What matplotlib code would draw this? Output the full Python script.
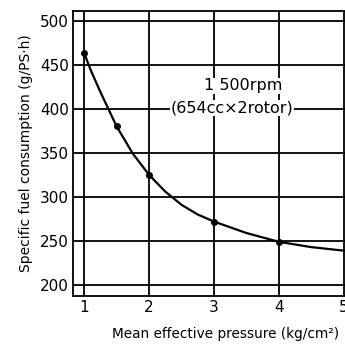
import matplotlib
matplotlib.use("Agg")
import matplotlib.pyplot as plt

plt.rcParams['font.family'] = ['DejaVu Sans']

# data
pressure = [1.0, 1.5, 2.0, 3.0, 4.0]
consumption = [463, 380, 325, 272, 249]
curve_x = [1.0, 1.1, 1.25, 1.5, 1.75, 2.0, 2.25, 2.5, 2.75, 3.0, 3.5, 4.0, 4.5, 5.0]
curve_y = [463, 444, 419, 380, 349, 325, 306, 291, 280, 272, 259, 249, 243, 239]
xticks = [1, 2, 3, 4, 5]
yticks = [200, 250, 300, 350, 400, 450, 500]

fig = plt.figure(figsize=(3.45, 3.52), dpi=100)
ax = fig.add_axes([0.212, 0.159, 0.79, 0.81])

for x in xticks:
    ax.axvline(x, color='k', lw=1.3, zorder=1)
for y in yticks:
    ax.axhline(y, color='k', lw=1.3, zorder=1)

ax.plot(curve_x, curve_y, color='k', lw=1.6, zorder=3)
ax.plot(pressure, consumption, 'o', color='k', ms=4, zorder=4)

ax.text(3.45, 426, '1 500rpm', ha='center', va='center', fontsize=11.5,
        bbox=dict(facecolor='white', edgecolor='none', pad=0.2), zorder=2)
ax.text(3.28, 401, '(654cc\u00d72rotor)', ha='center', va='center', fontsize=11.5,
        bbox=dict(facecolor='white', edgecolor='none', pad=0.5), zorder=2)

ax.set_xlim(0.83, 5.03)
ax.set_ylim(187.5, 511)
ax.set_xticks(xticks)
ax.set_yticks(yticks)
ax.tick_params(length=0, labelsize=11, pad=3)
for s in ax.spines.values():
    s.set_linewidth(1.3)

ax.set_xlabel('Mean effective pressure (kg/cm\u00b2)', fontsize=9.8)
ax.xaxis.set_label_coords(0.56, -0.11)
ax.set_ylabel('Specific fuel consumption (g/PS\u00b7h)', fontsize=10, labelpad=5)

fig.savefig('out.png', dpi=100)
